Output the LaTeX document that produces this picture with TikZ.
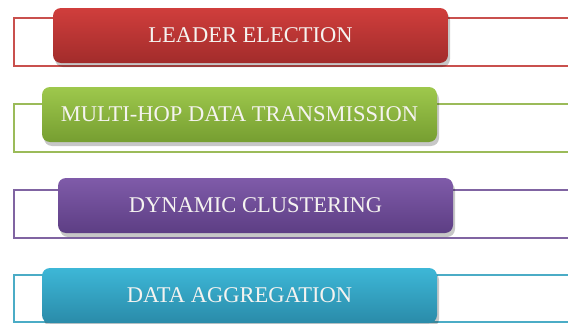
\documentclass[tikz,border=0pt]{standalone}
\usepackage{fontspec}
\setmainfont{Liberation Serif}
\usetikzlibrary{shadows}

% Office-style accent colours
\definecolor{redA}{HTML}{D03E3C}
\definecolor{redB}{HTML}{A22C2B}
\definecolor{redL}{HTML}{C9504D}
\definecolor{greenA}{HTML}{9EC84C}
\definecolor{greenB}{HTML}{769E31}
\definecolor{greenL}{HTML}{9BBB59}
\definecolor{purpA}{HTML}{7F5BA9}
\definecolor{purpB}{HTML}{5D3E84}
\definecolor{purpL}{HTML}{8064A2}
\definecolor{blueA}{HTML}{3DB7D7}
\definecolor{blueB}{HTML}{2A8BA9}
\definecolor{blueL}{HTML}{4BACC6}
\definecolor{labeltext}{HTML}{F5F3F0}

\begin{document}
\begin{tikzpicture}[x=1pt,y=-1pt,
  frameline/.style={line width=1.3pt},
  stagebox/.style={rounded corners=8pt, minimum width=395pt, minimum height=55pt,
    inner sep=0pt, text=labeltext, font=\fontsize{22.5}{24}\selectfont,
    drop shadow={shadow xshift=2pt, shadow yshift=-4pt, opacity=0.22, fill=black}},
  redstage/.style={stagebox, top color=redA, bottom color=redB},
  greenstage/.style={stagebox, top color=greenA, bottom color=greenB},
  purpstage/.style={stagebox, top color=purpA, bottom color=purpB},
  bluestage/.style={stagebox, top color=blueA, bottom color=blueB}]

\useasboundingbox[fill=white] (0,0) rectangle (568,324);

% open frames running off to the right
\draw[frameline, redL]   (568,18)  -- (14,18)  -- (14,66)  -- (568,66);
\draw[frameline, greenL] (568,104) -- (14,104) -- (14,152) -- (568,152);
\draw[frameline, purpL]  (568,190) -- (14,190) -- (14,238) -- (568,238);
\draw[frameline, blueL]  (568,275) -- (14,275) -- (14,322) -- (568,322);

% stage labels
\node[redstage]   (leader)  at (250.5,35.5)  {LEADER ELECTION};
\node[greenstage] (multhop) at (239.5,114.5) {MULTI-HOP DATA TRANSMISSION};
\node[purpstage]  (dynclus) at (255.5,205.5) {DYNAMIC CLUSTERING};
\node[bluestage]  (dataagg) at (239.5,295.5) {DATA AGGREGATION};

\end{tikzpicture}
\end{document}
